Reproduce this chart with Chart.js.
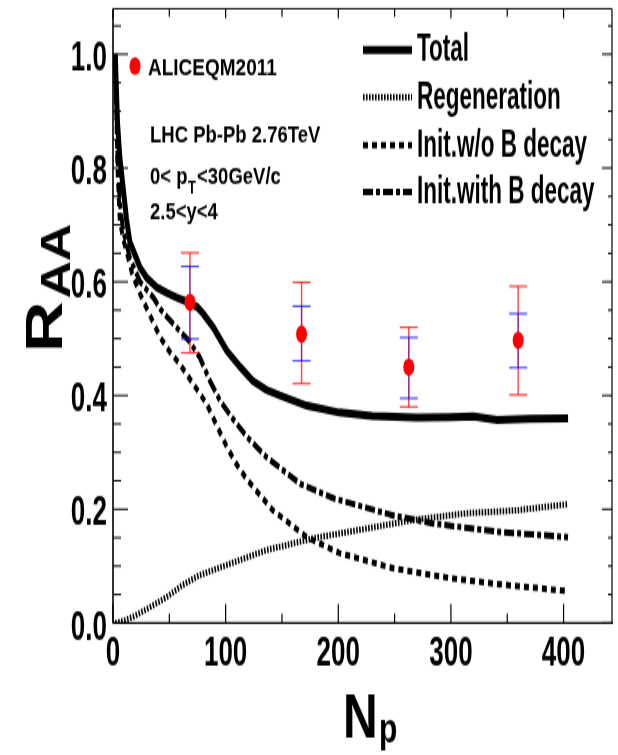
<!DOCTYPE html>
<html>
<head>
<meta charset="utf-8">
<script src="https://cdn.jsdelivr.net/npm/chart.js@4.4.1/dist/chart.umd.min.js"></script>
<style>
html, body { margin: 0; padding: 0; background: #fff; overflow: hidden; }
/* the reference picture is a vertically stretched ROOT canvas */
#wrap { position: absolute; left: 0; top: 0; width: 618px; height: 472px;
        transform: scaleY(1.6); transform-origin: 0 0; }
</style>
</head>
<body>
<div id="wrap"><canvas id="raa"></canvas></div>
<script>
const SY = 1.6;
const FONT = '"Liberation Sans", Arial, Helvetica, sans-serif';

// model curves, R_AA vs N_p
const npTotal  = [2, 4, 6, 9, 12, 15, 20, 24, 30, 39, 48, 57, 68, 75, 80, 89, 101, 113, 124, 136, 148, 172, 201, 230, 270, 300, 320, 341, 370, 404];
const raaTotal = [1.0, 0.88, 0.82, 0.765, 0.71, 0.67, 0.645, 0.625, 0.607, 0.59, 0.58, 0.572, 0.563, 0.555, 0.544, 0.52, 0.479, 0.45, 0.426, 0.41, 0.40, 0.382, 0.370, 0.364, 0.361, 0.362, 0.363, 0.357, 0.359, 0.360];

const npRegen  = [2, 10, 18, 33, 48, 62, 77, 101, 136, 178, 225, 266, 314, 358, 404];
const raaRegen = [0, 0.004, 0.011, 0.028, 0.046, 0.067, 0.084, 0.102, 0.128, 0.149, 0.166, 0.181, 0.193, 0.198, 0.209];

const npNoB  = [2, 4, 6, 9, 12, 17, 24, 33, 42, 50, 59, 71, 83, 90, 101, 110, 119, 142, 172, 201, 249, 299, 343, 404];
const raaNoB = [1.0, 0.80, 0.71, 0.675, 0.654, 0.614, 0.579, 0.54, 0.502, 0.478, 0.456, 0.421, 0.386, 0.356, 0.31, 0.278, 0.252, 0.198, 0.151, 0.123, 0.096, 0.079, 0.068, 0.056];

const npWithB  = [2, 4, 6, 9, 15, 24, 36, 42, 48, 59, 68, 77, 86, 95, 106, 119, 136, 166, 196, 249, 284, 343, 404];
const raaWithB = [1.0, 0.82, 0.74, 0.69, 0.642, 0.60, 0.572, 0.552, 0.538, 0.514, 0.495, 0.467, 0.426, 0.391, 0.36, 0.327, 0.292, 0.245, 0.219, 0.189, 0.175, 0.160, 0.151];

// ALICE QM2011 points
const npAlice   = [68.3, 167.4, 262.6, 359.7];
const raaAlice  = [0.564, 0.508, 0.450, 0.497];
const redLow    = [0.475, 0.421, 0.380, 0.401];
const redHigh   = [0.651, 0.599, 0.520, 0.592];
const blueLow   = [0.4995, 0.461, 0.395, 0.449];
const blueHigh  = [0.627, 0.557, 0.502, 0.544];

// axis ticks
const xMajor = [0, 100, 200, 300, 400];
const xMinor = [50, 150, 250, 350];
const yMajor = [0, 0.2, 0.4, 0.6, 0.8, 1.0];
const yMinor = [0.05, 0.1, 0.15, 0.25, 0.3, 0.35, 0.45, 0.5, 0.55, 0.65, 0.7, 0.75, 0.85, 0.9, 0.95, 1.05];

const legendNames = ['Total', 'Regeneration', 'Init.w/o B decay', 'Init.with B decay'];

function pts(xs, ys) { return xs.map((x, i) => ({ x: x, y: ys[i] })); }

function text(ctx, s, x, y, size, sx, sy, align) {
    ctx.save();
    ctx.translate(x, y);
    ctx.scale(sx, sy);
    ctx.font = 'bold ' + size + 'px ' + FONT;
    ctx.textAlign = align || 'left';
    ctx.textBaseline = 'alphabetic';
    ctx.fillStyle = '#000';
    ctx.fillText(s, 0, 0);
    ctx.restore();
}

function rotText(ctx, s, x, y, size, sx) {
    ctx.save();
    ctx.translate(x, y);
    ctx.rotate(-Math.PI / 2);
    ctx.scale(sx, 1);
    ctx.font = 'bold ' + size + 'px ' + FONT;
    ctx.textAlign = 'center';
    ctx.textBaseline = 'alphabetic';
    ctx.fillStyle = '#000';
    ctx.fillText(s, 0, 0);
    ctx.restore();
}

function seg(ctx, x1, y1, x2, y2) {
    ctx.beginPath(); ctx.moveTo(x1, y1); ctx.lineTo(x2, y2); ctx.stroke();
}

const errorBars = {
    id: 'errorBars',
    beforeDatasetDraw(chart, args) {
        if (args.index !== 0) return;
        const { ctx, scales: { x, y } } = chart;
        ctx.save();
        ctx.setLineDash([]);
        npAlice.forEach((n, i) => {
            const px = x.getPixelForValue(n);
            const capW = 9;
            // red (total) error
            ctx.strokeStyle = 'rgba(255,0,0,0.75)';
            ctx.lineWidth = 1.4;
            seg(ctx, px, y.getPixelForValue(redLow[i]), px, y.getPixelForValue(redHigh[i]));
            ctx.lineWidth = 1.2;
            [redLow[i], redHigh[i]].forEach(v => {
                const py = y.getPixelForValue(v);
                seg(ctx, px - capW, py, px + capW, py);
            });
            // blue (stat) error
            ctx.strokeStyle = 'rgba(0,0,255,0.45)';
            ctx.lineWidth = 1.4;
            seg(ctx, px, y.getPixelForValue(blueLow[i]), px, y.getPixelForValue(blueHigh[i]));
            ctx.strokeStyle = 'rgba(0,0,255,0.7)';
            ctx.lineWidth = 1.2;
            [blueLow[i], blueHigh[i]].forEach(v => {
                const py = y.getPixelForValue(v);
                seg(ctx, px - capW, py, px + capW, py);
            });
        });
        ctx.restore();
    }
};

const frame = {
    id: 'frame',
    afterDatasetsDraw(chart) {
        const { ctx, chartArea: a, scales: { x, y } } = chart;
        ctx.save();
        ctx.setLineDash([]);
        ctx.globalAlpha = 1;
        ctx.strokeStyle = '#000000';
        ctx.lineCap = 'butt';
        // box
        ctx.lineWidth = 1.6;
        seg(ctx, a.left, a.top, a.left, a.bottom);
        ctx.lineWidth = 1.2;
        seg(ctx, a.right, a.top, a.right, a.bottom);
        ctx.lineWidth = 1.3;
        seg(ctx, a.left, a.bottom, a.right + 1, a.bottom);
        ctx.lineWidth = 0.9;
        seg(ctx, a.left, a.top, a.right, a.top);
        // ticks on all four sides, pointing inward
        ctx.lineWidth = 1;
        const yt = (v, lenL, lenR) => {
            const py = y.getPixelForValue(v);
            seg(ctx, a.left, py, a.left + lenL, py);
            seg(ctx, a.right, py, a.right - lenR, py);
        };
        yMajor.forEach(v => yt(v, 15, 10));
        yMinor.forEach(v => yt(v, 8, 4));
        ctx.lineWidth = 1.2;
        const xt = (v, lenB, lenT) => {
            const px = x.getPixelForValue(v);
            seg(ctx, px, a.bottom, px, a.bottom - lenB);
            seg(ctx, px, a.top, px, a.top + lenT);
        };
        xMajor.forEach(v => xt(v, 12, 6));
        xMinor.forEach(v => xt(v, 6, 5));
        ctx.restore();
    },
    afterDraw(chart) {
        const { ctx } = chart;
        ctx.save();
        // axis titles
        rotText(ctx, 'R', 62, 327 / SY, 52, 0.85);
        rotText(ctx, 'AA', 70, 261 / SY, 43, 0.75);
        text(ctx, 'N', 343, 737 / SY, 48, 1, 0.8);
        text(ctx, 'p', 379, 742 / SY, 30, 1, 0.85);

        // legend, right side
        const ds = chart.data.datasets;
        const rows = [50, 97, 145, 192];
        legendNames.forEach((name, i) => {
            const d = ds[i + 1];
            const ly = rows[i] / SY;
            ctx.save();
            ctx.strokeStyle = '#000';
            ctx.lineWidth = d.borderWidth;
            ctx.setLineDash(d.borderDash || []);
            seg(ctx, 363, ly, 412, ly);
            ctx.restore();
            text(ctx, name, 417, ly + 7, 22.5, 1, 1.08);
        });

        // data legend and labels, left side
        ctx.fillStyle = '#ff0000';
        ctx.beginPath(); ctx.arc(135, 66 / SY, 5.5, 0, Math.PI * 2); ctx.fill();
        text(ctx, 'ALICEQM2011', 148, 75 / SY, 19, 1, 0.8);
        text(ctx, 'LHC Pb-Pb 2.76TeV', 150, 143 / SY, 18.5, 1, 0.8);
        text(ctx, '0< p', 150, 184 / SY, 18.5, 1, 0.8);
        text(ctx, 'T', 188, 193 / SY, 13, 1, 0.8);
        text(ctx, '<30GeV/c', 197, 184 / SY, 18.5, 1, 0.8);
        text(ctx, '2.5<y<4', 150, 219 / SY, 18.5, 1, 0.8);
        ctx.restore();
    }
};

const ctx = document.getElementById('raa').getContext('2d');
const raaChart = new Chart(ctx, {
    type: 'scatter',
    data: {
        datasets: [{
            label: 'ALICEQM2011',
            data: pts(npAlice, raaAlice),
            pointRadius: 5.5,
            pointBackgroundColor: '#ff0000',
            pointBorderWidth: 0,
            showLine: false
        }, {
            label: 'Total',
            data: pts(npTotal, raaTotal),
            showLine: true, borderColor: '#000', borderWidth: 5, pointRadius: 0, tension: 0
        }, {
            label: 'Regeneration',
            data: pts(npRegen, raaRegen),
            showLine: true, borderColor: '#000', borderWidth: 4, borderDash: [1.6, 1.4], pointRadius: 0, tension: 0
        }, {
            label: 'Init.w/o B decay',
            data: pts(npNoB, raaNoB),
            showLine: true, borderColor: '#000', borderWidth: 4, borderDash: [5, 4], pointRadius: 0, tension: 0
        }, {
            label: 'Init.with B decay',
            data: pts(npWithB, raaWithB),
            showLine: true, borderColor: '#000', borderWidth: 4, borderDash: [10, 3, 4, 3], pointRadius: 0, tension: 0
        }]
    },
    options: {
        responsive: true,
        maintainAspectRatio: false,
        animation: false,
        layout: { padding: { top: 7 / SY, right: 6, left: 0, bottom: 0 } },
        plugins: { legend: { display: false }, tooltip: { enabled: false } },
        scales: {
            x: {
                type: 'linear', min: 0, max: 443,
                afterFit: s => { s.height = 472 - 623 / SY; s.paddingLeft = 0; s.paddingRight = 0; },
                afterBuildTicks: s => { s.ticks = xMajor.map(v => ({ value: v })); },
                grid: { display: false, drawTicks: false },
                border: { display: false },
                ticks: { color: '#000', padding: 4, font: { family: FONT, size: 26, weight: 'bold' } }
            },
            y: {
                type: 'linear', min: 0, max: 1.08,
                afterFit: s => { s.width = 113; s.paddingTop = 0; s.paddingBottom = 0; },
                afterBuildTicks: s => { s.ticks = yMajor.map(v => ({ value: v })); },
                grid: { display: false, drawTicks: false },
                border: { display: false },
                ticks: {
                    color: '#000', padding: 6, labelOffset: 3,
                    font: { family: FONT, size: 26, weight: 'bold' },
                    callback: v => v.toFixed(1)
                }
            }
        }
    },
    plugins: [errorBars, frame]
});
</script>
</body>
</html>
